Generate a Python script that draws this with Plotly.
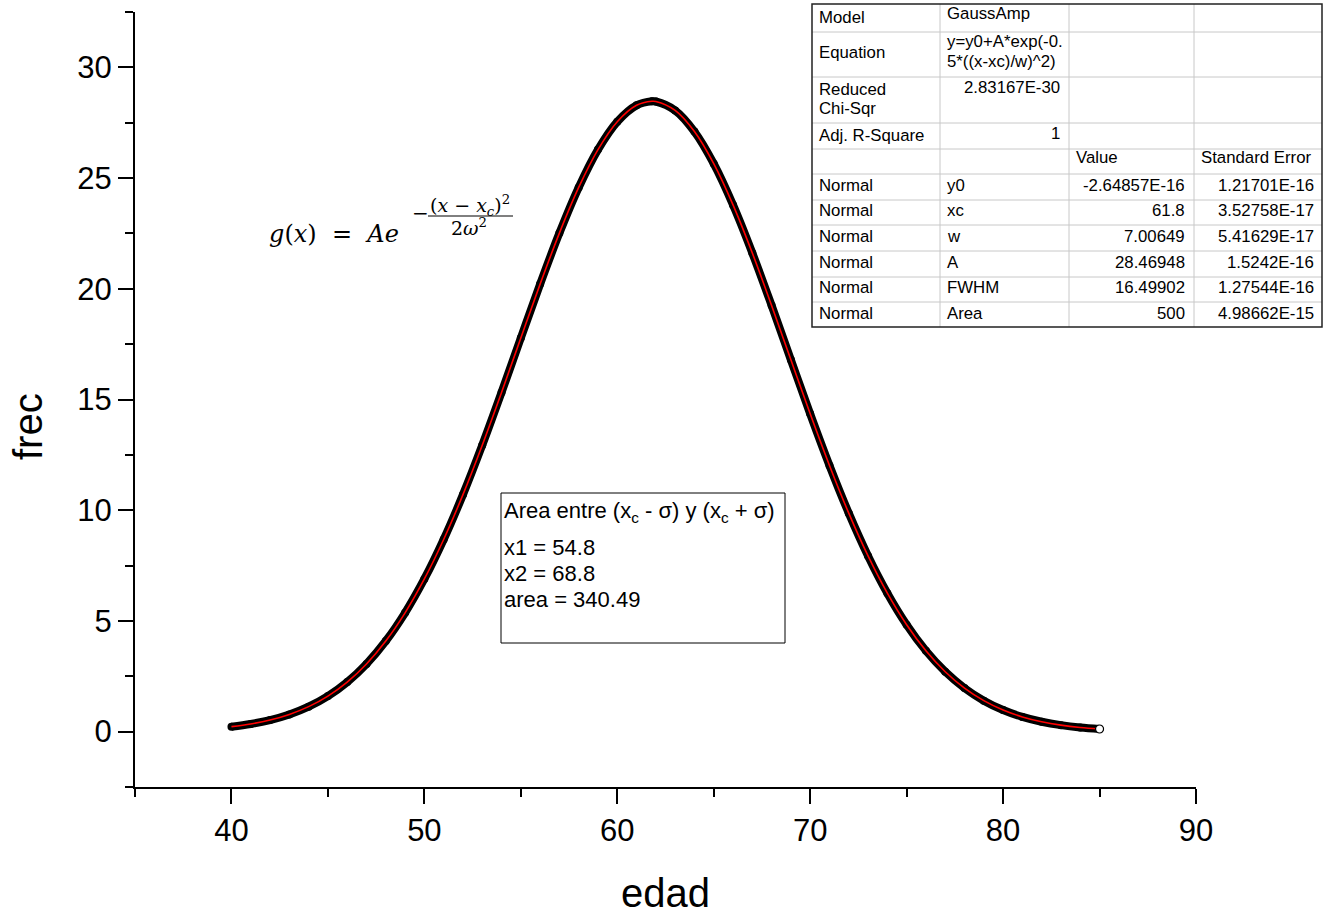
import plotly.graph_objects as go

# ---------------- data ----------------
edad = [40, 41, 42, 43, 44, 45, 46, 47, 48, 49, 50, 51, 52, 53, 54, 55, 56, 57, 58, 59,
        60, 61, 61.8, 62, 63, 64, 65, 66, 67, 68, 69, 70, 71, 72, 73, 74, 75, 76, 77, 78,
        79, 80, 81, 82, 83, 84, 85]
frec = [0.225, 0.347, 0.525, 0.778, 1.129, 1.607, 2.239, 3.058, 4.092, 5.366, 6.894,
        8.678, 10.704, 12.937, 15.320, 17.776, 20.211, 22.515, 24.576, 26.285, 27.545,
        28.285, 28.469, 28.458, 28.055, 27.100, 25.650, 23.788, 21.616, 19.246, 16.791,
        14.353, 12.022, 9.867, 7.934, 6.252, 4.827, 3.651, 2.706, 1.966, 1.399, 0.975,
        0.666, 0.446, 0.293, 0.188, 0.119]

x_tick_vals = [40, 50, 60, 70, 80, 90]
y_tick_vals = [0, 5, 10, 15, 20, 25, 30]

# fit-report table
tbl_col1 = ["Model", "Equation", "Reduced\nChi-Sqr", "Adj. R-Square", "",
            "Normal", "Normal", "Normal", "Normal", "Normal", "Normal"]
tbl_col2 = ["GaussAmp", "y=y0+A*exp(-0.\n5*((x-xc)/w)^2)", "2.83167E-30", "1", "",
            "y0", "xc", "w", "A", "FWHM", "Area"]
tbl_head = ["Value", "Standard Error"]
tbl_values = ["-2.64857E-16", "61.8", "7.00649", "28.46948", "16.49902", "500"]
tbl_errors = ["1.21701E-16", "3.52758E-17", "5.41629E-17", "1.5242E-16",
              "1.27544E-16", "4.98662E-15"]

box_lines = ["Area entre (x<sub>c</sub> - σ) y (x<sub>c</sub> + σ)",
             "x1 = 54.8", "x2 = 68.8", "area = 340.49"]

# ---------------- layout helpers ----------------
W, H = 1325, 914
L, R, T, B = 135, 1196, 12, 787


def px(x):
    return (x - L) / (R - L)


def py(y):
    return (B - y) / (B - T)


SANS = "Liberation Sans, Arial, sans-serif"
SERIF = "DejaVu Serif, serif"

fig = go.Figure()
fig.add_trace(go.Scatter(x=edad, y=frec, mode="lines+markers",
                         line=dict(color="black", width=8, shape="spline"),
                         marker=dict(color="black", size=8, symbol="circle"),
                         hoverinfo="skip"))
fig.add_trace(go.Scatter(x=edad, y=frec, mode="lines",
                         line=dict(color="#ff0000", width=1.6, shape="spline"),
                         hoverinfo="skip"))
fig.add_trace(go.Scatter(x=edad[-1:], y=frec[-1:], mode="markers",
                         marker=dict(color="white", size=8, symbol="circle",
                                     line=dict(color="black", width=1.2)),
                         hoverinfo="skip"))

axis_common = dict(showgrid=False, zeroline=False, showline=True, linewidth=2,
                   linecolor="black", ticks="outside", ticklen=15, tickwidth=2,
                   tickcolor="black", tickfont=dict(family=SANS, size=31, color="black"))
fig.update_xaxes(range=[35, 90], tickvals=x_tick_vals,
                 minor=dict(tickvals=[35, 45, 55, 65, 75, 85], ticklen=8, tickwidth=2,
                            ticks="outside", tickcolor="black", showgrid=False),
                 **axis_common)
fig.update_yaxes(range=[-2.5, 32.5], tickvals=y_tick_vals,
                 minor=dict(tickvals=[-2.5, 2.5, 7.5, 12.5, 17.5, 22.5, 27.5, 32.5],
                            ticklen=8, tickwidth=2, ticks="outside", tickcolor="black",
                            showgrid=False),
                 **axis_common)

ann = []
shapes = []


def text(xp, yp, s, size, xanchor="left", family=SANS, angle=0, yanchor="middle"):
    ann.append(dict(x=px(xp), y=py(yp), xref="paper", yref="paper", text=s,
                    showarrow=False, xanchor=xanchor, yanchor=yanchor, textangle=angle,
                    font=dict(family=family, size=size, color="black"), borderpad=0))


# axis titles
text(665, 893, "edad", 40, xanchor="center")
text(28, 427, "frec", 40, xanchor="center", angle=-90)

# formula
text(268, 234, "<i>g</i>(<i>x</i>)  =  <i>Ae</i>", 24, family=SERIF)
text(420, 213, "−", 20, xanchor="center", family=SERIF)
text(470, 205, "(<i>x</i> − <i>x</i><sub><i>c</i></sub>)<sup>2</sup>", 19,
     xanchor="center", family=SERIF)
text(469, 227, "2<i>ω</i><sup>2</sup>", 19, xanchor="center", family=SERIF)
shapes.append(dict(type="line", xref="paper", yref="paper", x0=px(428), x1=px(513),
                   y0=py(216), y1=py(216), line=dict(color="black", width=1)))

# area box
shapes.append(dict(type="rect", xref="paper", yref="paper", x0=px(501), x1=px(785),
                   y0=py(643), y1=py(493), line=dict(color="black", width=1)))
for s, yy in zip(box_lines, [512, 547, 573, 599]):
    text(503, yy, s, 22)

# table grid
row_edges = [4, 32, 77, 123, 149, 174, 200, 225, 251, 277, 302, 327]
col_edges = [812, 940, 1069, 1194, 1322]
for yy in row_edges[1:-1]:
    shapes.append(dict(type="line", xref="paper", yref="paper", x0=px(812), x1=px(1322),
                       y0=py(yy), y1=py(yy), line=dict(color="#c8c8c8", width=1)))
for xx in col_edges[1:-1]:
    shapes.append(dict(type="line", xref="paper", yref="paper", x0=px(xx), x1=px(xx),
                       y0=py(4), y1=py(327), line=dict(color="#c8c8c8", width=1)))
shapes.append(dict(type="rect", xref="paper", yref="paper", x0=px(812), x1=px(1322),
                   y0=py(327), y1=py(4), line=dict(color="#222222", width=1.5)))

TS = 16.8
# column 1
c1_y = [[17], [53], [89, 109], [135], [], [186], [211], [237], [262], [287], [313]]
for s, ys in zip(tbl_col1, c1_y):
    for part, yy in zip(s.split("\n"), ys):
        if part:
            text(818, yy, part, TS)
# column 2
c2_y = [[14], [42, 61], [88], [133], [], [186], [211], [237], [262], [287], [313]]
for i, (s, ys) in enumerate(zip(tbl_col2, c2_y)):
    if i in (2, 3):
        text(1061, ys[0], s, TS, xanchor="right")
    else:
        for part, yy in zip(s.split("\n"), ys):
            if part:
                text(946, yy, part, TS)
text(1075, 158, tbl_head[0], TS)
text(1200, 158, tbl_head[1], TS)
for v, e, yy in zip(tbl_values, tbl_errors, [186, 211, 237, 262, 287, 313]):
    text(1186, yy, v, TS, xanchor="right")
    text(1315, yy, e, TS, xanchor="right")

fig.update_layout(width=W, height=H, margin=dict(l=L, r=W - R, t=T, b=H - B, pad=0),
                  paper_bgcolor="white", plot_bgcolor="white", showlegend=False,
                  font=dict(family=SANS, color="black"),
                  annotations=ann, shapes=shapes)

fig.write_html("out.html")
